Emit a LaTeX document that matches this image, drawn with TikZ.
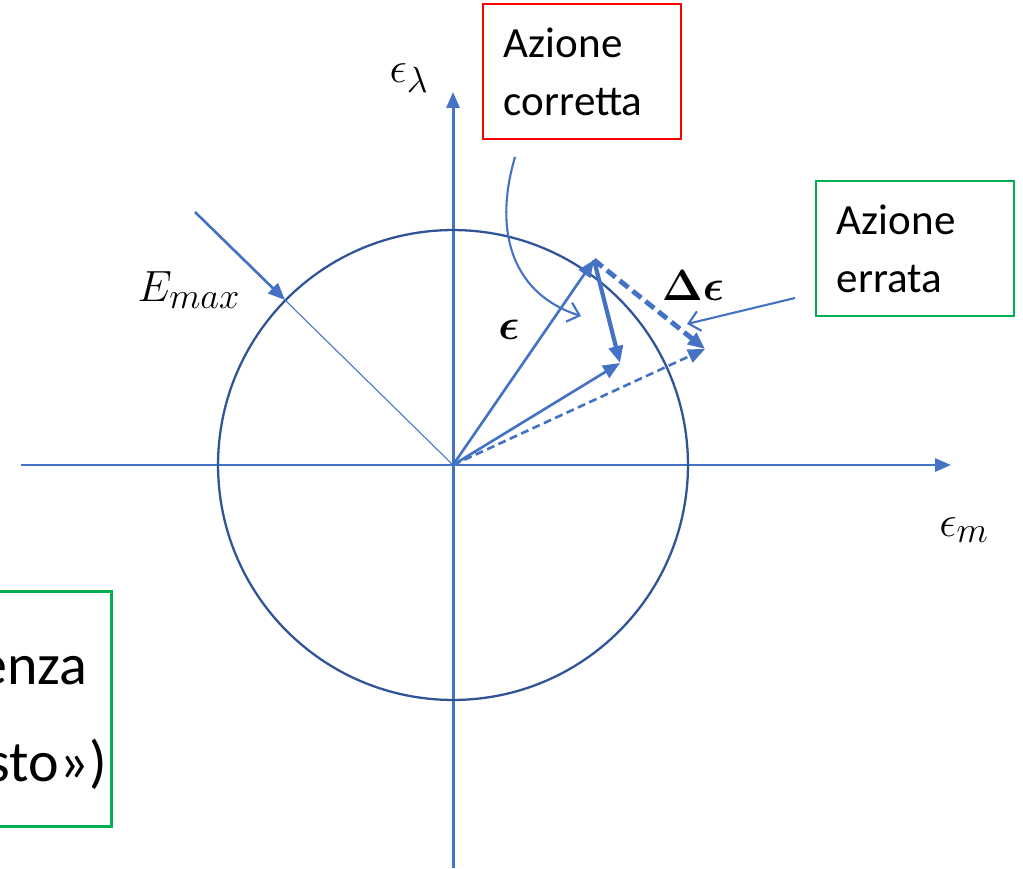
\documentclass[tikz,border=0pt]{standalone}
\usepackage{amsmath,amssymb}
\usepackage{fontspec}
\setmainfont{Carlito}
\usepackage{tikz}
\usetikzlibrary{arrows.meta}

\definecolor{axisblue}{HTML}{4472C4}
\definecolor{ringblue}{HTML}{2F5597}
\definecolor{boxred}{HTML}{FF0000}
\definecolor{boxgreen}{HTML}{00B050}

\begin{document}
\begin{tikzpicture}[
    x=0.02cm, y=-0.02cm,
    every node/.style={inner sep=0pt},
    axis/.style={draw=axisblue, line width=1.7pt,
        -{Triangle[length=0.32cm,width=0.26cm]}},
    vec/.style={draw=axisblue, line width=1.5pt,
        -{Triangle[length=0.34cm,width=0.28cm]}},
    dvec/.style={vec, dash pattern=on 0.16cm off 0.09cm},
    stepvec/.style={vec, line width=2.4pt},
    dstepvec/.style={vec, line width=2.8pt, dash pattern=on 0.22cm off 0.11cm},
    callout/.style={draw=axisblue, line width=1.2pt,
        -{Straight Barb[length=0.22cm,width=0.4cm,line width=1.2pt]}},
    mathlabel/.style={font=\fontsize{30}{34}\selectfont},
    actbox/.style={
        rectangle, draw, line width=1.1pt,
        minimum width=3.96cm, minimum height=2.7cm,
        text width=3.12cm, inner xsep=0.42cm, align=left,
        font=\fontsize{24.5}{33}\selectfont
    },
    corrbox/.style={actbox, draw=boxred},
    errbox/.style={actbox, draw=boxgreen}
]
\useasboundingbox (0,0) rectangle (1023,868);
\clip (0,0) rectangle (1023,868);

% --- Axes ---
\coordinate (o) at (453,465);
\coordinate (xl) at (21,465);
\coordinate (xr) at (951,465);
\coordinate (yb) at (453,868);
\coordinate (yt) at (453,92);
\draw[axis] (xl) -- (xr);
\draw[axis] (yb) -- (yt);
\node[mathlabel] (elam) at (409,78) {$\epsilon_{\lambda}$};
\node[mathlabel, font=\fontsize{32}{34}\selectfont] (em) at (964,530) {$\epsilon_{m}$};

% --- Circle E_max ---
\draw[ringblue, line width=1.3pt] (o) circle [radius=4.7cm];
\coordinate (rim) at (285,300);
\coordinate (emtail) at (195,212);
\draw[axisblue, line width=0.6pt] (o) -- (rim);
\draw[vec] (emtail) -- (rim);
\node[mathlabel] (emax) at (189,290) {$E_{max}$};

% --- Vectors ---
\coordinate (tip) at (594,260);
\coordinate (ok) at (620,363);
\coordinate (bad) at (705,349);
\draw[vec] (o) -- (tip);
\draw[vec] (o) -- (ok);
\draw[dvec] (o) -- (bad);
\draw[stepvec] (tip) -- (ok);
\draw[dstepvec] (tip) -- (bad);
\node[mathlabel, font=\fontsize{28}{30}\selectfont] (eps) at (509,330) {$\boldsymbol{\epsilon}$};
\node[mathlabel, font=\fontsize{27}{30}\selectfont] (deps) at (693,286) {$\boldsymbol{\Delta\epsilon}$};

% --- Action boxes ---
\node[corrbox, anchor=north west] (corr) at (482,3) {Azione\\corretta};
\node[errbox, anchor=north west] (err) at (815,180) {Azione\\errata};

% corretta -> step
\coordinate (corrtail) at (515,157);
\coordinate (corrtip) at (581,316);
\draw[callout] (corrtail) .. controls (492,235) and (515,295) .. (corrtip);

% errata -> step
\coordinate (errtail) at (795,298);
\coordinate (errtip) at (687,324);
\draw[callout] (errtail) -- (errtip);

% --- Cut box on the left ---
\node[rectangle, draw=boxgreen, line width=1.5pt, anchor=north east,
      minimum width=3.5cm, minimum height=4.7cm] (zona) at (113,590) {};
\node[anchor=base east, align=right, font=\fontsize{33}{55}\selectfont]
    (zonatxt) at (107,781) {enza\hspace*{0.38cm}\\sto»)};

\end{tikzpicture}
\end{document}
